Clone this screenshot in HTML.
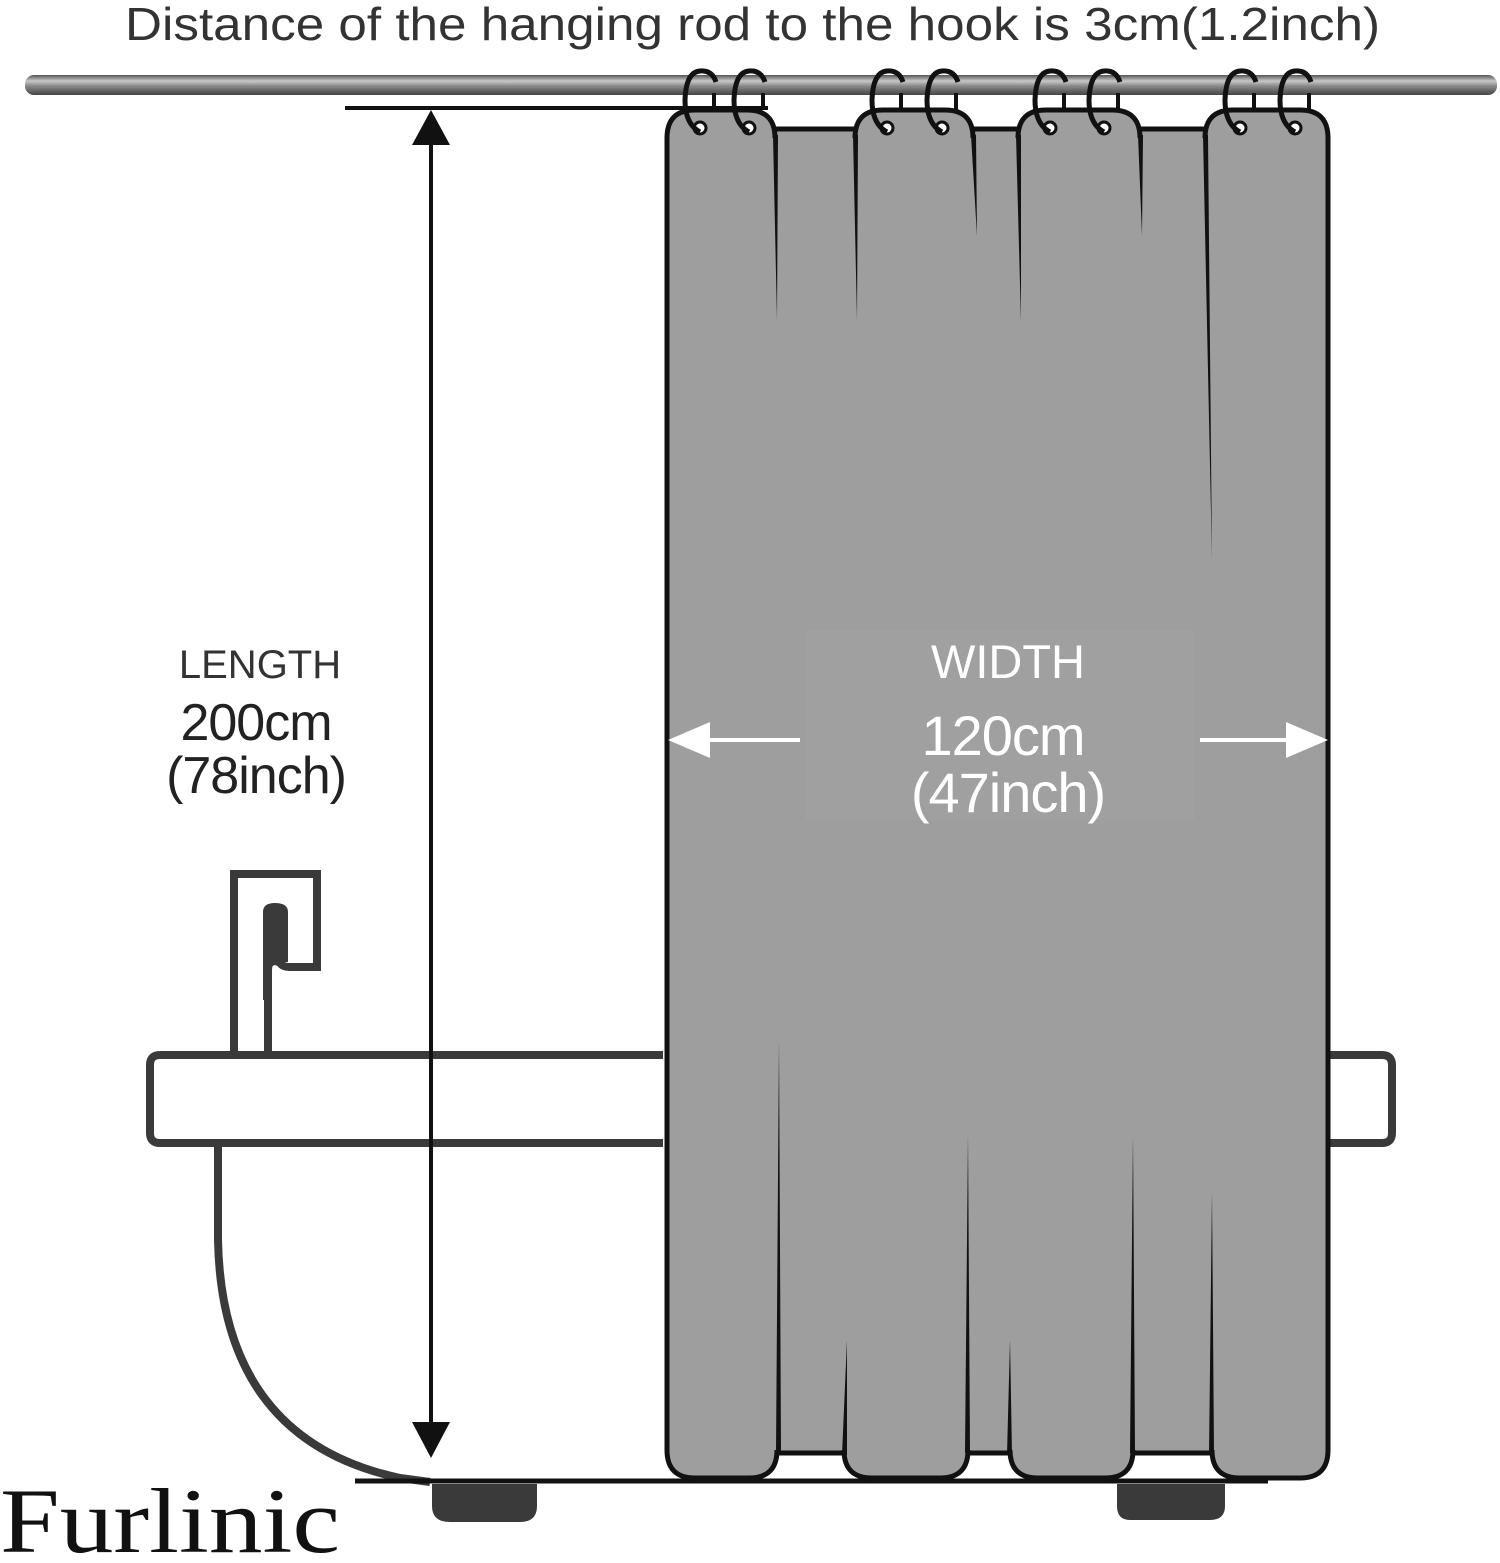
<!DOCTYPE html>
<html><head><meta charset="utf-8"><style>html,body{margin:0;padding:0;background:#fff}svg{display:block}</style></head>
<body>
<svg width="1500" height="1563" viewBox="0 0 1500 1563" xmlns="http://www.w3.org/2000/svg">
<defs>
<linearGradient id="rod" x1="0" y1="0" x2="0" y2="1">
<stop offset="0" stop-color="#555"/><stop offset="0.3" stop-color="#c8c8c8"/><stop offset="0.55" stop-color="#8a8a8a"/><stop offset="1" stop-color="#444"/>
</linearGradient>
</defs>
<text x="125" y="40" font-family="Liberation Sans, sans-serif" font-size="46" fill="#333" textLength="1255" lengthAdjust="spacingAndGlyphs">Distance of the hanging rod to the hook is 3cm(1.2inch)</text>
<rect x="25" y="75" width="1472" height="20" rx="9" fill="url(#rod)"/>
<g stroke="#111" stroke-width="4">
<line x1="714" y1="93" x2="714" y2="110"/><line x1="763" y1="93" x2="763" y2="108"/>
<line x1="901" y1="93" x2="901" y2="110"/><line x1="956" y1="93" x2="956" y2="112"/>
<line x1="1064" y1="93" x2="1064" y2="110"/><line x1="1118" y1="93" x2="1118" y2="112"/>
<line x1="1254" y1="93" x2="1254" y2="110"/><line x1="1309" y1="93" x2="1309" y2="112"/>
</g>
<line x1="345" y1="108" x2="768" y2="108" stroke="#111" stroke-width="4"/>
<g stroke="#3a3a3a" stroke-width="8" fill="none">
<path d="M663 1055 H160 Q150 1055 150 1065 V1133 Q150 1143 160 1143 H663"/>
<path d="M218 1143 V1240 Q222 1440 400 1478 L430 1482"/>
<path d="M1327 1055 H1382 Q1392 1055 1392 1065 V1133 Q1392 1143 1382 1143 H1327"/>
<path d="M234 1052 V874 H317 V967 H289 Q283 967 280 963 Q275 959 270 963 Q268 965 268 972 V1052"/>
</g>
<path d="M263 1000 V912 Q263 903 275 903 Q288 903 288 912 V962 L271 962 L271 1000 Z" fill="#3a3a3a"/>
<line x1="355" y1="1481" x2="1268" y2="1481" stroke="#111" stroke-width="5"/>
<path d="M432 1484 H537 V1506 Q537 1522 520 1522 H450 Q432 1522 432 1506 Z" fill="#3a3a3a"/>
<path d="M1117 1484 H1225 V1506 Q1225 1520 1210 1520 H1130 Q1117 1520 1117 1506 Z" fill="#3a3a3a"/>
<g fill="#9e9e9e">
<rect x="667" y="129" width="661" height="1324"/>
<path d="M667 1450 V138 Q667 110 695 110 H747 Q775 110 775 138 V1300 L777 1450 Q777 1478 749 1478 H695 Q667 1478 667 1450 Z"/>
<path d="M855 138 Q855 110 883 110 H945 Q973 110 973 138 V1300 L968 1450 Q968 1478 940 1478 H872 Q844 1478 844 1450 L855 300 Z"/>
<path d="M1018 138 Q1018 110 1046 110 H1112 Q1140 110 1140 138 L1133 1450 Q1133 1478 1105 1478 H1038 Q1010 1478 1010 1450 Z"/>
<path d="M1205 138 Q1205 110 1233 110 H1300 Q1328 110 1328 138 V1450 Q1328 1478 1300 1478 H1240 Q1212 1478 1212 1450 Z"/>
</g>
<rect x="805" y="630" width="390" height="190" fill="#a0a0a0"/>
<g stroke="#111" stroke-width="5" fill="none" stroke-linejoin="round">
<path d="M667 1450 V138 Q667 110 695 110 H747 Q775 110 775 138"/>
<path d="M1205 138 Q1205 110 1233 110 H1300 Q1328 110 1328 138 V1450 Q1328 1478 1300 1478 H1240 Q1212 1478 1212 1450"/>
<path d="M667 1450 Q667 1478 695 1478 H749 Q777 1478 777 1450"/>
<path d="M855 138 Q855 110 883 110 H945 Q973 110 973 138"/>
<path d="M1018 138 Q1018 110 1046 110 H1112 Q1140 110 1140 138"/>
<path d="M844 1450 Q844 1478 872 1478 H940 Q968 1478 968 1450"/>
<path d="M1010 1450 Q1010 1478 1038 1478 H1105 Q1133 1478 1133 1450"/>
<line x1="775" y1="129" x2="855" y2="129"/><line x1="973" y1="129" x2="1018" y2="129"/><line x1="1140" y1="129" x2="1205" y2="129"/>
<line x1="777" y1="1453" x2="844" y2="1453"/><line x1="968" y1="1453" x2="1010" y2="1453"/><line x1="1133" y1="1453" x2="1212" y2="1453"/>
</g>
<g fill="#111">
<polygon points="773,135 778,135 777,320"/>
<polygon points="853,135 858,135 857,320"/>
<polygon points="971,135 976,135 977,236"/>
<polygon points="1016,135 1021,135 1021,322"/>
<polygon points="1138,135 1143,135 1142,236"/>
<polygon points="1203,135 1208,135 1212,560"/>
<polygon points="779,1040 776,1453 781,1453"/>
<polygon points="847,1340 842,1455 847,1455"/>
<polygon points="968,1135 965,1453 970,1453"/>
<polygon points="1010,1340 1007,1455 1012,1455"/>
<polygon points="1133,1135 1130,1453 1135,1453"/>
<polygon points="1212,1192 1209,1455 1214,1455"/>
</g>
<g fill="#fff" stroke="#111" stroke-width="3">
<circle cx="700" cy="128" r="6"/><circle cx="749" cy="128" r="6"/>
<circle cx="887" cy="128" r="6"/><circle cx="942" cy="128" r="6"/>
<circle cx="1050" cy="128" r="6"/><circle cx="1104" cy="128" r="6"/>
<circle cx="1240" cy="128" r="6"/><circle cx="1295" cy="128" r="6"/>
</g>
<g stroke="#111" stroke-width="5" fill="none">
<path d="M700 132 Q685 124 685 100 Q686 72 700 71 Q712 70 716 82"/>
<path d="M749 132 Q734 124 734 100 Q735 72 749 71 Q761 70 765 82"/>
<path d="M887 132 Q872 124 872 100 Q873 72 887 71 Q899 70 903 82"/>
<path d="M942 132 Q927 124 927 100 Q928 72 942 71 Q954 70 958 82"/>
<path d="M1050 132 Q1035 124 1035 100 Q1036 72 1050 71 Q1062 70 1066 82"/>
<path d="M1104 132 Q1089 124 1089 100 Q1090 72 1104 71 Q1116 70 1120 82"/>
<path d="M1240 132 Q1225 124 1225 100 Q1226 72 1240 71 Q1252 70 1256 82"/>
<path d="M1295 132 Q1280 124 1280 100 Q1281 72 1295 71 Q1307 70 1311 82"/>
</g>
<line x1="431" y1="130" x2="431" y2="1430" stroke="#111" stroke-width="4"/>
<polygon points="431,110 412,145 450,145" fill="#111"/>
<polygon points="431,1458 412,1422 450,1422" fill="#111"/>
<line x1="700" y1="740" x2="800" y2="740" stroke="#fff" stroke-width="4"/>
<polygon points="668,740 710,722 710,758" fill="#fff"/>
<line x1="1200" y1="740" x2="1295" y2="740" stroke="#fff" stroke-width="4"/>
<polygon points="1328,740 1286,722 1286,758" fill="#fff"/>
<g font-family="Liberation Sans, sans-serif" text-anchor="middle">
<text x="260" y="678" font-size="40" fill="#333">LENGTH</text>
<text x="256" y="740" font-size="52" fill="#222" letter-spacing="-1">200cm</text>
<text x="256" y="793" font-size="52" fill="#222" letter-spacing="-1">(78inch)</text>
<text x="1008" y="678" font-size="47" fill="#fff">WIDTH</text>
<text x="1003" y="755" font-size="56" fill="#fff" letter-spacing="-1">120cm</text>
<text x="1008" y="812" font-size="56" fill="#fff" letter-spacing="-1">(47inch)</text>
</g>
<text x="0" y="1552" font-family="Liberation Serif, serif" font-size="92" fill="#111" textLength="340" lengthAdjust="spacingAndGlyphs">Furlinic</text>
</svg>
</body></html>
